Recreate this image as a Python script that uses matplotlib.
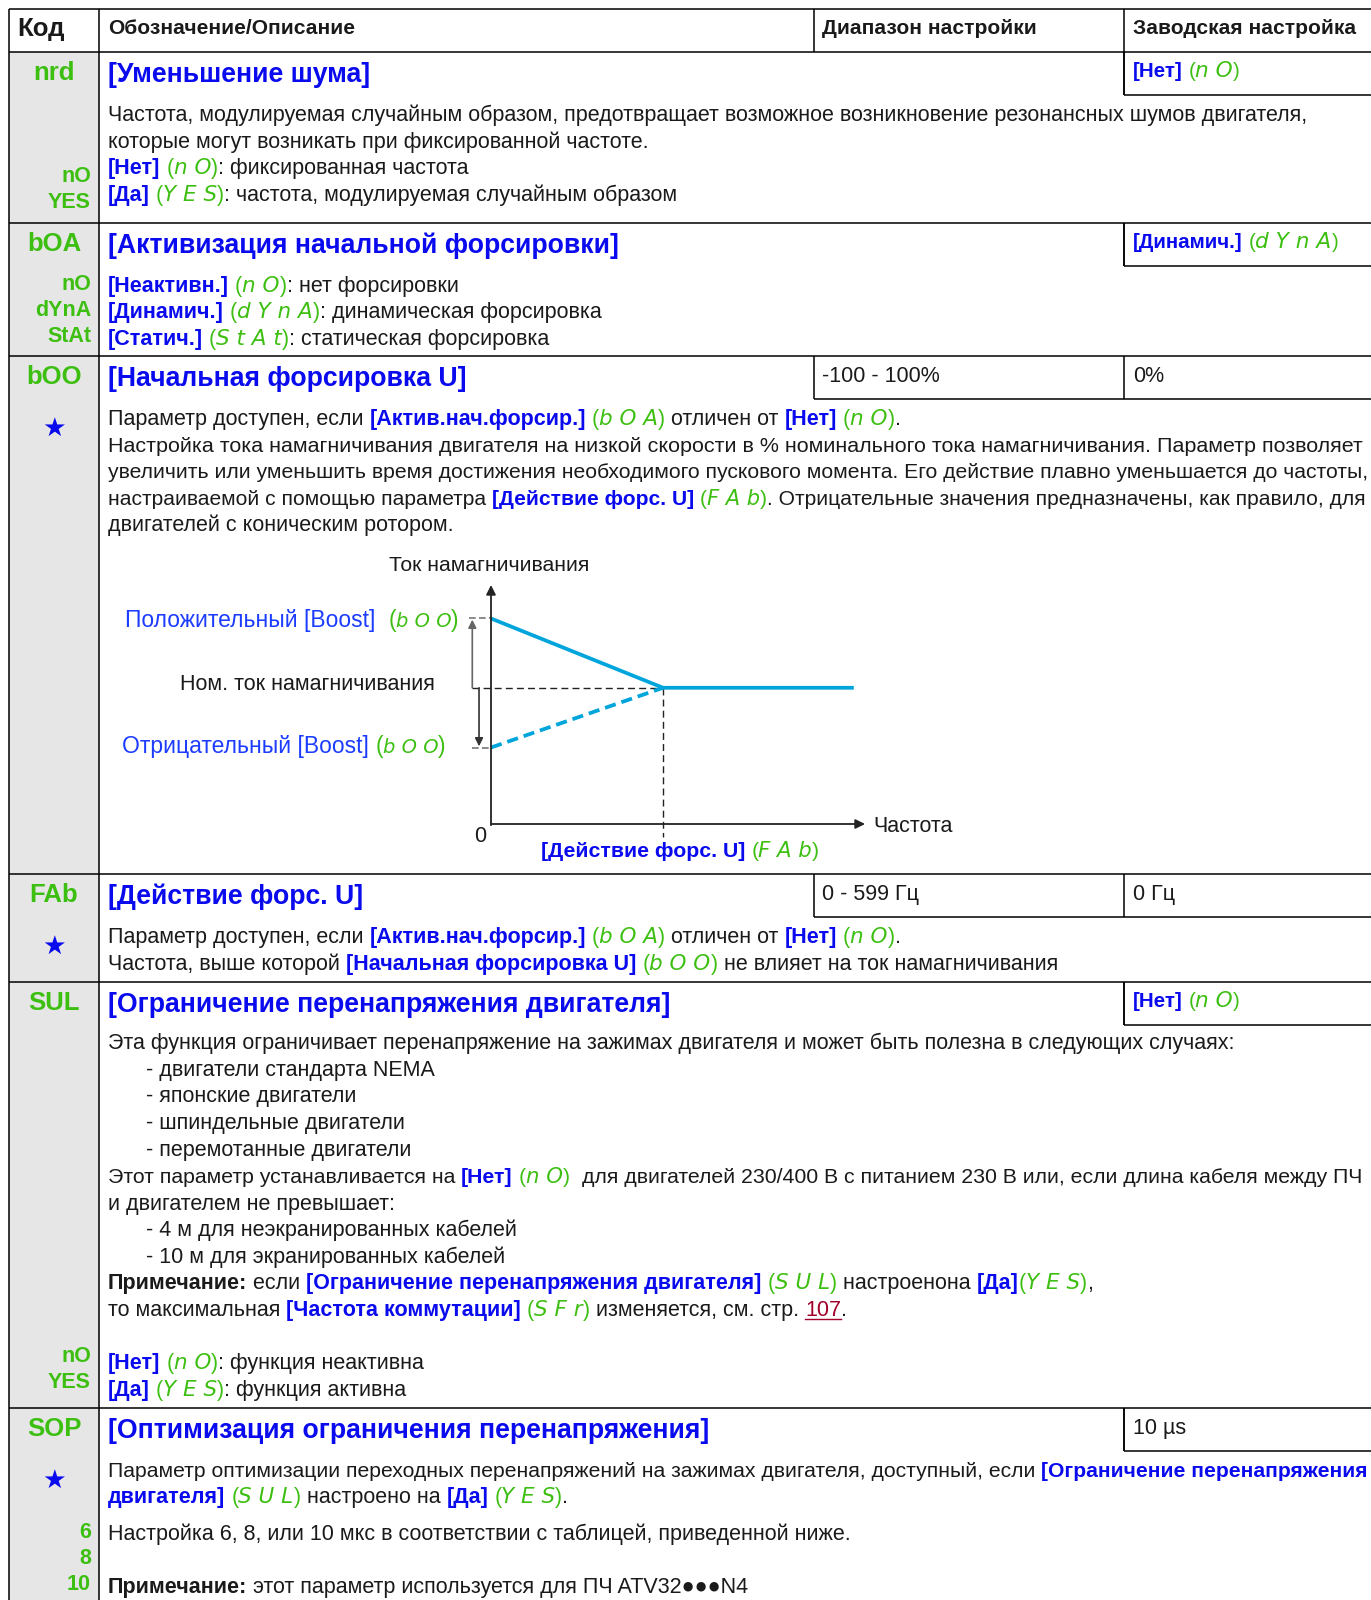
import re
import matplotlib
matplotlib.use('Agg')
import matplotlib.pyplot as plt
from matplotlib.patches import Rectangle

plt.rcParams['font.family'] = ['Liberation Sans', 'DejaVu Sans']

# ---------------- content ----------------
header = ['Код', 'Обозначение/Описание', 'Диапазон настройки', 'Заводская настройка']
codes = ['nrd', 'bOA', 'bOO', 'FAb', 'SUL', 'SOP']
titles = ['[Уменьшение шума]',
          '[Активизация начальной форсировки]',
          '[Начальная форсировка U]',
          '[Действие форс. U]',
          '[Ограничение перенапряжения двигателя]',
          '[Оптимизация ограничения перенапряжения]']
ranges = [None, None, '-100 - 100%', '0 - 599 Гц', None, None]
factory = ['{b:[Нет]} {g:n O}', '{b:[Динамич.]} {g:d Y n A}', '0%', '0 Гц',
           '{b:[Нет]} {g:n O}', '10 µs']
starred = [False, False, True, True, False, True]

nrd_text = ['Частота, модулируемая случайным образом, предотвращает возможное возникновение резонансных шумов двигателя,',
            'которые могут возникать при фиксированной частоте.',
            '{b:[Нет]} {g:n O}: фиксированная частота',
            '{b:[Да]} {g:Y E S}: частота, модулируемая случайным образом']
boa_text = ['{b:[Неактивн.]} {g:n O}: нет форсировки',
            '{b:[Динамич.]} {g:d Y n A}: динамическая форсировка',
            '{b:[Статич.]} {g:S t A t}: статическая форсировка']
boo_text = ['Параметр доступен, если {b:[Актив.нач.форсир.]} {g:b O A} отличен от {b:[Нет]} {g:n O}.',
            'Настройка тока намагничивания двигателя на низкой скорости в % номинального тока намагничивания. Параметр позволяет',
            'увеличить или уменьшить время достижения необходимого пускового момента. Его действие плавно уменьшается до частоты,',
            'настраиваемой с помощью параметра {b:[Действие форс. U]} {g:F A b}. Отрицательные значения предназначены, как правило, для',
            'двигателей с коническим ротором.']
fab_text = ['Параметр доступен, если {b:[Актив.нач.форсир.]} {g:b O A} отличен от {b:[Нет]} {g:n O}.',
            'Частота, выше которой {b:[Начальная форсировка U]} {g:b O O} не влияет на ток намагничивания']
sul_text = ['Эта функция ограничивает перенапряжение на зажимах двигателя и может быть полезна в следующих случаях:',
            '\t- двигатели стандарта NEMA',
            '\t- японские двигатели',
            '\t- шпиндельные двигатели',
            '\t- перемотанные двигатели',
            'Этот параметр устанавливается на {b:[Нет]} {g:n O}  для двигателей 230/400 В с питанием 230 В или, если длина кабеля между ПЧ',
            'и двигателем не превышает:',
            '\t- 4 м для неэкранированных кабелей',
            '\t- 10 м для экранированных кабелей',
            '{k:Примечание:} если {b:[Ограничение перенапряжения двигателя]} {g:S U L} настроенона {b:[Да]}{g:Y E S},',
            'то максимальная {b:[Частота коммутации]} {g:S F r} изменяется, см. стр. {r:107}.',
            '',
            '{b:[Нет]} {g:n O}: функция неактивна',
            '{b:[Да]} {g:Y E S}: функция активна']
sop_text = ['Параметр оптимизации переходных перенапряжений на зажимах двигателя, доступный, если {b:[Ограничение перенапряжения}',
            '{b:двигателя]} {g:S U L} настроено на {b:[Да]} {g:Y E S}.',
            'Настройка 6, 8, или 10 мкс в соответствии с таблицей, приведенной ниже.',
            '{k:Примечание:} этот параметр используется для ПЧ ATV32●●●N4']
body_text = [nrd_text, boa_text, boo_text, fab_text, sul_text, sop_text]

sub_codes = [['nO', 'YES'], ['nO', 'dYnA', 'StAt'], [], [], ['nO', 'YES'], ['6', '8', '10']]

# diagram values (arbitrary units)
freq = [0, 4.6, 9.7]
current_pos = [8.6, 5.7, 5.7]
current_neg = [3.2, 5.7]
diag_texts = ['Ток намагничивания', 'Частота', '0',
              'Положительный [Boost]  {g:b O O}',
              'Ном. ток намагничивания',
              'Отрицательный [Boost] {g:b O O}',
              '{b:[Действие форс. U]} {g:F A b}']

# ---------------- layout ----------------
W, H = 1371, 1600
X0, XC, XR, XF = 9, 99, 814, 1124
MAXX = 1360
row_top = [52, 223, 356, 874, 982, 1408]
body_y = [[113, 140, 166, 193],
          [284, 310, 337],
          [417, 444, 470, 497, 523],
          [935, 962],
          [1041, 1068, 1094, 1121, 1148, 1175, 1202, 1228, 1255, 1281, 1308, 1334, 1361, 1388],
          [1469, 1495, 1532, 1585]]
sub_y = [[176, 203], [284, 310, 337], [], [], [1357, 1383], [1532, 1559, 1585]]

BLUE = '#0a0aee'
LBLUE = '#1c3cff'
GREEN = '#3dbf12'
BLACK = '#1a1a1a'
CYAN = '#00a5dc'
BODY = 15.5

fig = plt.figure(figsize=(W / 100, H / 100), dpi=100)
ax = fig.add_axes([0, 0, 1, 1])
ax.set_xlim(0, W)
ax.set_ylim(H, 0)
ax.axis('off')
renderer = fig.canvas.get_renderer()

STYLES = {
    'n': dict(color=BLACK),
    'l': dict(color=LBLUE),
    'b': dict(color=BLUE, fontweight='bold'),
    'k': dict(color=BLACK, fontweight='bold'),
    'r': dict(color='#a0002a'),
    'g': dict(color=GREEN, fontstyle='italic', family=['DejaVu Sans']),
    'p': dict(color=GREEN),
}

_cache = {}


def text_w(s, size, style):
    key = (s, round(size, 3), style)
    if key not in _cache:
        t = ax.text(0, 0, s, fontsize=size, **STYLES[style])
        _cache[key] = t.get_window_extent(renderer).width
        t.remove()
    return _cache[key]


def advance(s, size, style):
    return text_w('|' + s + '|', size, style) - text_w('||', size, style)


def parse(markup, base):
    out = []
    for piece in re.split(r'(\{\w:[^}]*\})', markup):
        if not piece:
            continue
        m = re.match(r'\{(\w):([^}]*)\}', piece)
        if m is None:
            out.append((piece, base))
        elif m.group(1) == 'g':
            out += [('(', 'p'), (m.group(2), 'g'), (')', 'p')]
        else:
            out.append((m.group(2), m.group(1)))
    return out


def rich(x, yc, markup, size=BODY, base='n', gscale=1.0, maxx=MAXX):
    parts = parse(markup, base)

    def sz(st, s0):
        return s0 * gscale if st == 'g' else s0

    total = sum(advance(s, sz(st, size), st) for s, st in parts)
    if x + total > maxx:
        size = size * (maxx - x) / total
    base_y = yc + 0.36 * size * 100 / 72
    for s, st in parts:
        fs = sz(st, size)
        stripped = s.lstrip(' ')
        lead = advance(s[:len(s) - len(stripped)], fs, st) if stripped != s else 0
        if stripped:
            ax.text(x + lead, base_y, stripped, fontsize=fs, ha='left', va='baseline', **STYLES[st])
        w = advance(s, fs, st)
        if st == 'r':
            ax.plot([x, x + w], [base_y + 3, base_y + 3], color=STYLES['r']['color'], lw=1)
        x += w
    return x


def line(xs, ys, **kw):
    kw.setdefault('color', 'black')
    kw.setdefault('lw', 1.1)
    ax.plot(xs, ys, solid_capstyle='butt', **kw)


# code column background
ax.add_patch(Rectangle((X0, row_top[0]), XC - X0, H - row_top[0], color='#e6e6e6', lw=0))

# header
ax.text(17, 29, header[0], fontsize=18.5, fontweight='bold', color=BLACK, va='center')
ax.text(108, 29, header[1], fontsize=15.1, fontweight='bold', color=BLACK, va='center')
ax.text(822, 29, header[2], fontsize=15.1, fontweight='bold', color=BLACK, va='center')
ax.text(1133, 29, header[3], fontsize=15.1, fontweight='bold', color=BLACK, va='center')
line([X0, W], [9, 9])
line([XR, XR], [9, row_top[0]])
line([XF, XF], [9, row_top[0]])

# rows
for i, top in enumerate(row_top):
    line([X0, W], [top, top])
    ax.text(54, top + 21, codes[i], fontsize=18.5, fontweight='bold', color=GREEN, ha='center', va='center')
    rich(108, top + 20, '{b:' + titles[i] + '}', size=19.2)
    box_x = XR if ranges[i] else XF
    line([box_x, box_x], [top, top + 43])
    line([XF, XF], [top, top + 43])
    line([box_x, W], [top + 43, top + 43])
    if ranges[i]:
        rich(822, top + 18, ranges[i], size=BODY)
    rich(1133, top + 18, factory[i], size=14.8 if '{' in factory[i] else BODY, gscale=1.05)
    if starred[i]:
        ax.text(54, top + 73, '★', family=['DejaVu Sans'], fontsize=19, color=BLUE, ha='center', va='center')
    for txt, y in zip(body_text[i], body_y[i]):
        if not txt:
            continue
        if txt.startswith('\t'):
            rich(146, y, txt[1:])
        else:
            rich(108, y, txt)
    for c, y in zip(sub_codes[i], sub_y[i]):
        ax.text(91, y, c, fontsize=15.5, fontweight='bold', color=GREEN, ha='right', va='center')

line([X0, X0], [9, H])
line([XC, XC], [9, H])

# ---------------- diagram ----------------
ox, oy, ex, ey = 491, 824, 865, 585
ax2 = fig.add_axes([ox / W, 1 - oy / H, (ex - ox) / W, (oy - ey) / H])
ax2.set_xlim(0, 10)
ax2.set_ylim(0, 10)
ax2.axis('off')

ax2.annotate('', xy=(10, 0), xytext=(0, 0), annotation_clip=False,
             arrowprops=dict(arrowstyle='-|>', color='#222222', lw=1.3, mutation_scale=14, shrinkA=0, shrinkB=0))
ax2.annotate('', xy=(0, 10), xytext=(0, -0.05), annotation_clip=False,
             arrowprops=dict(arrowstyle='-|>', color='#222222', lw=1.3, mutation_scale=14, shrinkA=0, shrinkB=0))

nom = current_pos[-1]
ax2.plot([-0.5, freq[1]], [nom, nom], color='#222222', lw=1, ls=(0, (5, 3)), clip_on=False)
ax2.plot([freq[1], freq[1]], [nom, -0.55], color='#222222', lw=1, ls=(0, (5, 3)), clip_on=False)
ax2.plot([-0.6, 0], [current_pos[0]] * 2, color='#777777', lw=1.2, ls=(0, (4, 2)), clip_on=False)
ax2.plot([-0.5, 0], [current_neg[0]] * 2, color='#777777', lw=1.2, ls=(0, (4, 2)), clip_on=False)
ax2.annotate('', xy=(-0.5, current_pos[0] - 0.05), xytext=(-0.5, nom), annotation_clip=False,
             arrowprops=dict(arrowstyle='-|>', color='#666666', lw=1.2, mutation_scale=12, shrinkA=0, shrinkB=0))
ax2.annotate('', xy=(-0.32, current_neg[0] + 0.05), xytext=(-0.32, nom), annotation_clip=False,
             arrowprops=dict(arrowstyle='-|>', color='#333333', lw=1.2, mutation_scale=12, shrinkA=0, shrinkB=0))

ax2.plot(freq, current_pos, color=CYAN, lw=2.7, solid_capstyle='butt', clip_on=False)
ax2.plot(freq[:2], current_neg, color=CYAN, lw=2.7, ls=(0, (3, 1.6)), clip_on=False)

rich(389, 563, diag_texts[0], size=15.3)
rich(873, 824, diag_texts[1], size=15.5)
ax.text(480, 837, diag_texts[2], fontsize=15.5, color=BLACK, ha='center', va='center')
rich(125, 619, diag_texts[3], size=16.5, base='l', gscale=0.85)
rich(180, 682, diag_texts[4], size=15.5)
rich(122, 745, diag_texts[5], size=16.5, base='l', gscale=0.85)
rich(541, 849, diag_texts[6], size=15.3)

fig.savefig('out.png', dpi=100)
